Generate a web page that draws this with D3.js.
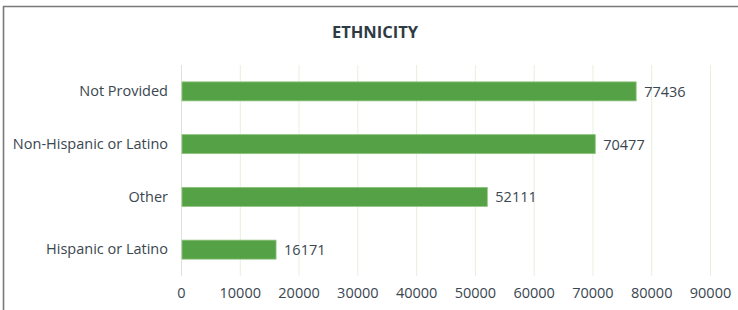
<!DOCTYPE html>
<html>
<head>
<meta charset="utf-8">
<script src="https://cdn.jsdelivr.net/npm/d3@7"></script>
<style>
  body { margin: 0; background: #fff; }
  text { font-family: "Open Sans", "DejaVu Sans", sans-serif; }
</style>
</head>
<body>
<div id="chart"></div>
<script>
const categories = ["Not Provided", "Non-Hispanic or Latino", "Other", "Hispanic or Latino"];
const counts = [77436, 70477, 52111, 16171];
const tickValues = [0, 10000, 20000, 30000, 40000, 50000, 60000, 70000, 80000, 90000];

const width = 738, height = 310;
const margin = { top: 65, right: 28, bottom: 34, left: 181 };

const svg = d3.select("#chart")
    .append("svg")
    .attr("width", width)
    .attr("height", height);

// frame (top and left edges only visible)
svg.append("path")
    .attr("d", `M3.5,${height} V6.5 H${width}`)
    .attr("fill", "none")
    .attr("stroke", "#7a7a7a")
    .attr("stroke-width", 1.6);

svg.append("text")
    .attr("x", 375)
    .attr("y", 37.5)
    .attr("text-anchor", "middle")
    .attr("font-size", 16.5)
    .attr("font-weight", "bold")
    .attr("fill", "#2f3b44")
    .text("ETHNICITY");

const x = d3.scaleLinear()
    .domain([0, 90000])
    .range([margin.left, 710]);

const y = d3.scaleBand()
    .domain(categories)
    .range([margin.top, height - margin.bottom])
    .paddingInner(0.64)
    .paddingOuter(0.32);

// gridlines
svg.append("g")
    .selectAll("line")
    .data(tickValues)
    .enter()
    .append("line")
    .attr("x1", d => x(d) + 0.5)
    .attr("x2", d => x(d) + 0.5)
    .attr("y1", margin.top)
    .attr("y2", height - margin.bottom)
    .attr("stroke", d => d === 0 ? "#dde3d8" : "#e6f0dc")
    .attr("stroke-width", 1);

// x axis labels
const xAxis = d3.axisBottom(x)
    .tickValues(tickValues)
    .tickFormat(d3.format("d"))
    .tickSize(0)
    .tickPadding(0);

svg.append("g")
    .attr("transform", `translate(0, ${height - margin.bottom + 5})`)
    .call(xAxis)
    .call(g => g.select(".domain").remove())
    .call(g => g.selectAll("text")
        .attr("dy", "1.2em")
        .attr("font-size", 14.5)
        .attr("fill", "#3a4650")
        .style("font-family", "'Open Sans', sans-serif"));

// y axis labels
const yAxis = d3.axisLeft(y).tickSize(0).tickPadding(13);

svg.append("g")
    .attr("transform", `translate(${margin.left}, 0)`)
    .call(yAxis)
    .call(g => g.select(".domain").remove())
    .call(g => g.selectAll("text")
        .attr("font-size", 14.5)
        .attr("fill", "#3a4650")
        .style("font-family", "'Open Sans', sans-serif"));

// bars
svg.selectAll("rect.bar")
    .data(categories)
    .enter()
    .append("rect")
    .attr("class", "bar")
    .attr("x", x(0) + 1)
    .attr("y", d => y(d))
    .attr("width", (d, i) => x(counts[i]) - x(0) - 1)
    .attr("height", y.bandwidth())
    .attr("fill", "#55a145")
    .attr("stroke", "#8cc47e")
    .attr("stroke-width", 0.8);

// value labels
svg.selectAll("text.value")
    .data(categories)
    .enter()
    .append("text")
    .attr("class", "value")
    .attr("x", (d, i) => x(counts[i]) + 8)
    .attr("y", d => y(d) + y.bandwidth() / 2)
    .attr("dy", "0.38em")
    .attr("font-size", 14.5)
    .attr("fill", "#3a4650")
    .text((d, i) => counts[i]);
</script>
</body>
</html>
